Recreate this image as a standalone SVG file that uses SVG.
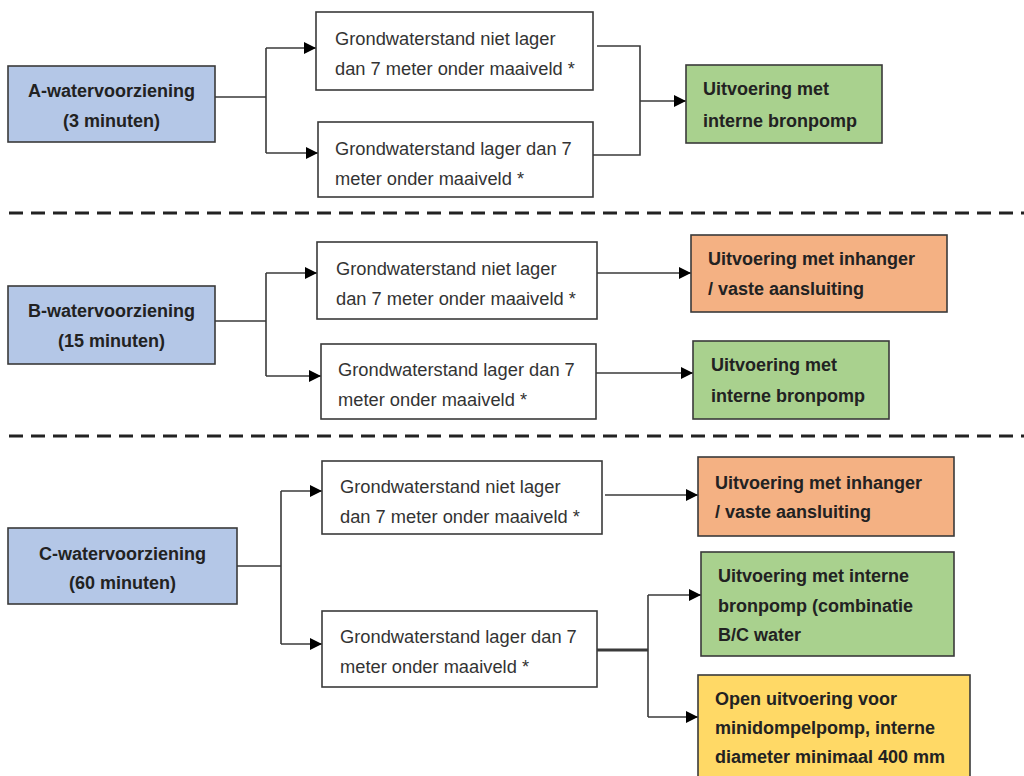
<svg xmlns="http://www.w3.org/2000/svg" width="1024" height="776" viewBox="0 0 1024 776">
  <defs>
    <marker id="arrow" markerUnits="userSpaceOnUse" markerWidth="13" markerHeight="12" refX="12" refY="6" orient="auto">
      <path d="M0,0 L12,6 L0,12 Z" fill="#000"/>
    </marker>
    <style>
      .box { stroke: #3a3a3a; stroke-width: 1.6; }
      .src { fill: #b4c7e7; }
      .cond { fill: #ffffff; }
      .green { fill: #a9d18e; }
      .orange { fill: #f4b183; }
      .yellow { fill: #ffd966; }
      .hd { font-family: "Liberation Sans", Arial, sans-serif; font-weight: bold; font-size: 18px; fill: #222; }
      .hdc { text-anchor: middle; }
      .tx { font-family: "Liberation Sans", Arial, sans-serif; font-size: 18.3px; fill: #333; }
      .ln { fill: none; stroke: #3a3a3a; stroke-width: 1.6; }
      .arr { fill: none; stroke: #3a3a3a; stroke-width: 1.6; marker-end: url(#arrow); }
      .sep { fill: none; stroke: #222; stroke-width: 3; stroke-dasharray: 14 8; }
    </style>
  </defs>
  <rect width="1024" height="776" fill="#ffffff"/>

  <!-- section separators -->
  <g id="separators">
    <line class="sep" x1="9" y1="213" x2="1024" y2="213"/>
    <line class="sep" x1="9" y1="436" x2="1024" y2="436"/>
  </g>

  <!-- connectors -->
  <g id="connectors">
    <!-- A -->
    <path class="ln" d="M215,97 H266 M266,48 V153"/>
    <path class="arr" d="M266,48 H316"/>
    <path class="arr" d="M266,153 H318"/>
    <path class="ln" d="M597,46 H640 V155 H593"/>
    <path class="arr" d="M640,101 H686"/>
    <!-- B -->
    <path class="ln" d="M215,321 H266 M266,273 V376"/>
    <path class="arr" d="M266,273 H317"/>
    <path class="arr" d="M266,376 H321"/>
    <path class="arr" d="M597,273 H691"/>
    <path class="arr" d="M596,373 H693"/>
    <!-- C -->
    <path class="ln" d="M236,566 H281 M281,491 V644"/>
    <path class="arr" d="M281,491 H322"/>
    <path class="arr" d="M281,644 H322"/>
    <path class="arr" d="M605,495 H698"/>
    <path class="ln" d="M597,650 H648" style="stroke-width:3"/>
    <path class="ln" d="M648,595 V717"/>
    <path class="arr" d="M648,595 H701"/>
    <path class="arr" d="M648,717 H698"/>
  </g>

  <!-- section A -->
  <g id="node-a">
    <rect class="box src" x="8" y="66" width="207" height="76"/>
    <text class="hd hdc" x="111.5" y="97">A-watervoorziening</text>
    <text class="hd hdc" x="111.5" y="127">(3 minuten)</text>
  </g>
  <g id="node-a1">
    <rect class="box cond" x="316" y="12" width="277" height="78"/>
    <text class="tx" x="335" y="45">Grondwaterstand niet lager</text>
    <text class="tx" x="335" y="75">dan 7 meter onder maaiveld *</text>
  </g>
  <g id="node-a2">
    <rect class="box cond" x="318" y="122" width="275" height="75"/>
    <text class="tx" x="335" y="155">Grondwaterstand lager dan 7</text>
    <text class="tx" x="335" y="185">meter onder maaiveld *</text>
  </g>
  <g id="node-a-result">
    <rect class="box green" x="686" y="65" width="196" height="78"/>
    <text class="hd" x="703" y="95">Uitvoering met</text>
    <text class="hd" x="703" y="127">interne bronpomp</text>
  </g>

  <!-- section B -->
  <g id="node-b">
    <rect class="box src" x="8" y="286" width="207" height="78"/>
    <text class="hd hdc" x="111.5" y="317">B-watervoorziening</text>
    <text class="hd hdc" x="111.5" y="347">(15 minuten)</text>
  </g>
  <g id="node-b1">
    <rect class="box cond" x="317" y="242" width="280" height="77"/>
    <text class="tx" x="336" y="275">Grondwaterstand niet lager</text>
    <text class="tx" x="336" y="305">dan 7 meter onder maaiveld *</text>
  </g>
  <g id="node-b2">
    <rect class="box cond" x="321" y="344" width="275" height="75"/>
    <text class="tx" x="338" y="376">Grondwaterstand lager dan 7</text>
    <text class="tx" x="338" y="406">meter onder maaiveld *</text>
  </g>
  <g id="node-b1-result">
    <rect class="box orange" x="691" y="235" width="256" height="77"/>
    <text class="hd" x="708" y="265">Uitvoering met inhanger</text>
    <text class="hd" x="708" y="295">/ vaste aansluiting</text>
  </g>
  <g id="node-b2-result">
    <rect class="box green" x="693" y="341" width="196" height="78"/>
    <text class="hd" x="711" y="371">Uitvoering met</text>
    <text class="hd" x="711" y="402">interne bronpomp</text>
  </g>

  <!-- section C -->
  <g id="node-c">
    <rect class="box src" x="8" y="528" width="229" height="76"/>
    <text class="hd hdc" x="122.5" y="560">C-watervoorziening</text>
    <text class="hd hdc" x="122.5" y="589">(60 minuten)</text>
  </g>
  <g id="node-c1">
    <rect class="box cond" x="322" y="461" width="280" height="73"/>
    <text class="tx" x="340" y="493">Grondwaterstand niet lager</text>
    <text class="tx" x="340" y="523">dan 7 meter onder maaiveld *</text>
  </g>
  <g id="node-c2">
    <rect class="box cond" x="322" y="611" width="275" height="76"/>
    <text class="tx" x="340" y="643">Grondwaterstand lager dan 7</text>
    <text class="tx" x="340" y="673">meter onder maaiveld *</text>
  </g>
  <g id="node-c1-result">
    <rect class="box orange" x="698" y="457" width="256" height="79"/>
    <text class="hd" x="715" y="489">Uitvoering met inhanger</text>
    <text class="hd" x="715" y="518">/ vaste aansluiting</text>
  </g>
  <g id="node-c2-result-a">
    <rect class="box green" x="701" y="552" width="253" height="104"/>
    <text class="hd" x="718" y="582">Uitvoering met interne</text>
    <text class="hd" x="718" y="612">bronpomp (combinatie</text>
    <text class="hd" x="718" y="641">B/C water</text>
  </g>
  <g id="node-c2-result-b">
    <rect class="box yellow" x="698" y="675" width="272" height="110"/>
    <text class="hd" x="715" y="705">Open uitvoering voor</text>
    <text class="hd" x="715" y="734">minidompelpomp, interne</text>
    <text class="hd" x="715" y="763">diameter minimaal 400 mm</text>
  </g>
</svg>
